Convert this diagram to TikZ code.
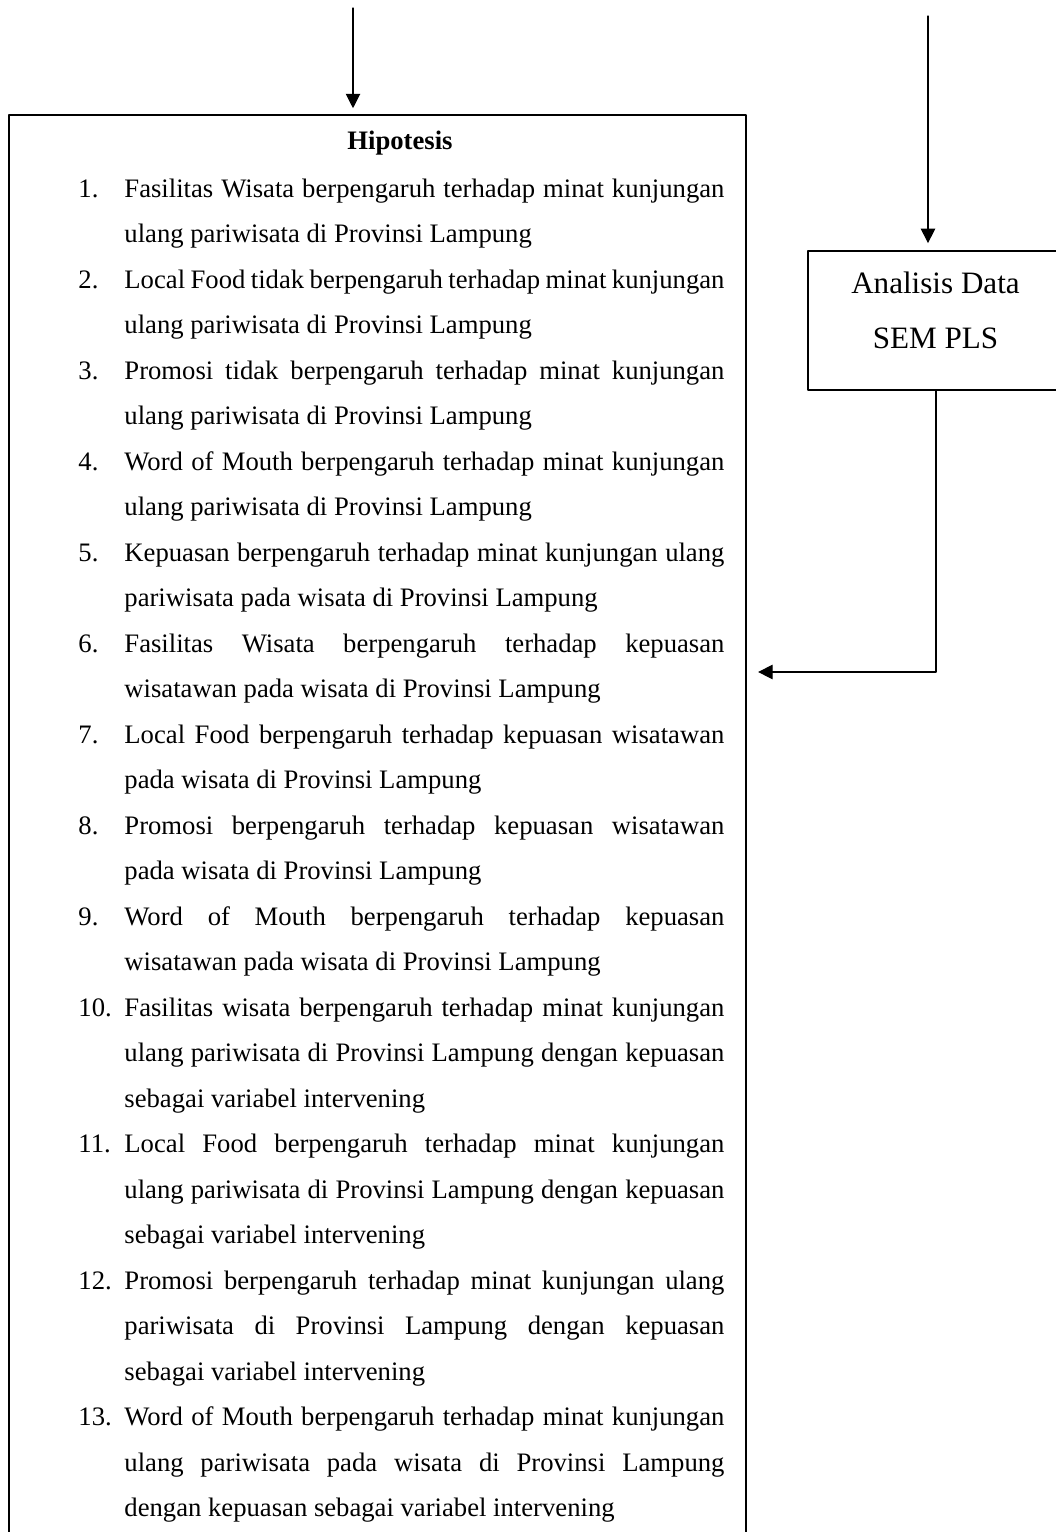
\documentclass[tikz,border=0pt]{standalone}
\usepackage{fontspec}
\setmainfont{Liberation Serif}
\usetikzlibrary{calc,arrows.meta}
\tolerance=9999
\hyphenpenalty=10000
\tikzset{
    lab/.style={
        font=\fontsize{12}{20.5}\selectfont
    }
}

\begin{document}
\begin{tikzpicture}[x=0.45pt, y=-0.45pt, line cap=round, line join=round]

\tikzset{
  box/.style={draw=black, line width=0.9pt, rectangle, inner sep=0pt},
  conn/.style={draw=black, line width=0.5pt, -{Triangle[length=6.5pt, width=6.5pt]}},
  num/.style={lab, anchor=base west, inner sep=0pt},
  hyp/.style={lab, anchor=base west, inner sep=0pt, text width=270pt, align=justify},
  semlab/.style={font=\fontsize{14}{24.75}\selectfont, anchor=base, inner sep=0pt, align=center},
}

\path[use as bounding box, clip] (0,0) rectangle (1056,1532);

% boxes
\node[box, anchor=north west, minimum width=331.65pt, minimum height=660pt] (hipo) at (8,114) {};
\node[box, anchor=north west, minimum width=115.65pt, minimum height=62.55pt] (sem) at (807,250) {};

% texts
\node[semlab] (semtxt) at (935.5,348) {Analisis Data\\SEM PLS};
\node[lab, anchor=base, inner sep=0pt] (judul) at (400,149) {\textbf{Hipotesis}};

\foreach \n/\idx/\txt in {
  1/0/{Fasilitas Wisata berpengaruh terhadap minat kunjungan \linebreak ulang pariwisata di Provinsi Lampung},
  2/2/{Local Food tidak berpengaruh terhadap minat kunjungan \linebreak ulang pariwisata di Provinsi Lampung},
  3/4/{Promosi tidak berpengaruh terhadap minat kunjungan \linebreak ulang pariwisata di Provinsi Lampung},
  4/6/{Word of Mouth berpengaruh terhadap minat kunjungan \linebreak ulang pariwisata di Provinsi Lampung},
  5/8/{Kepuasan berpengaruh terhadap minat kunjungan ulang \linebreak pariwisata pada wisata di Provinsi Lampung},
  6/10/{Fasilitas Wisata berpengaruh terhadap kepuasan \linebreak wisatawan pada wisata di Provinsi Lampung},
  7/12/{Local Food berpengaruh terhadap kepuasan wisatawan \linebreak pada wisata di Provinsi Lampung},
  8/14/{Promosi berpengaruh terhadap kepuasan wisatawan \linebreak pada wisata di Provinsi Lampung},
  9/16/{Word of Mouth berpengaruh terhadap kepuasan \linebreak wisatawan pada wisata di Provinsi Lampung},
  10/18/{Fasilitas wisata berpengaruh terhadap minat kunjungan \linebreak ulang pariwisata di Provinsi Lampung dengan kepuasan \linebreak sebagai variabel intervening},
  11/21/{Local Food berpengaruh terhadap minat kunjungan \linebreak ulang pariwisata di Provinsi Lampung dengan kepuasan \linebreak sebagai variabel intervening},
  12/24/{Promosi berpengaruh terhadap minat kunjungan ulang \linebreak pariwisata di Provinsi Lampung dengan kepuasan \linebreak sebagai variabel intervening},
  13/27/{Word of Mouth berpengaruh terhadap minat kunjungan \linebreak ulang pariwisata pada wisata di Provinsi Lampung \linebreak dengan kepuasan sebagai variabel intervening}%
}{
  \node[num] (n\n) at (78,{197+\idx*45.5}) {\n.};
  \node[hyp] (h\n) at (124,{197+\idx*45.5}) {\txt};
}

% connectors
\coordinate (srcA) at (353,8);
\coordinate (srcB) at (928,16);
\coordinate (turn) at (936,672);

\draw[conn, shorten >=2.6pt] (srcA) -- (srcA |- hipo.north);
\draw[conn, shorten >=3.1pt] (srcB) -- (srcB |- sem.north);
\draw[conn, shorten >=5pt] (sem.south -| turn) -- (turn) -- (turn -| hipo.east);

\end{tikzpicture}
\end{document}
